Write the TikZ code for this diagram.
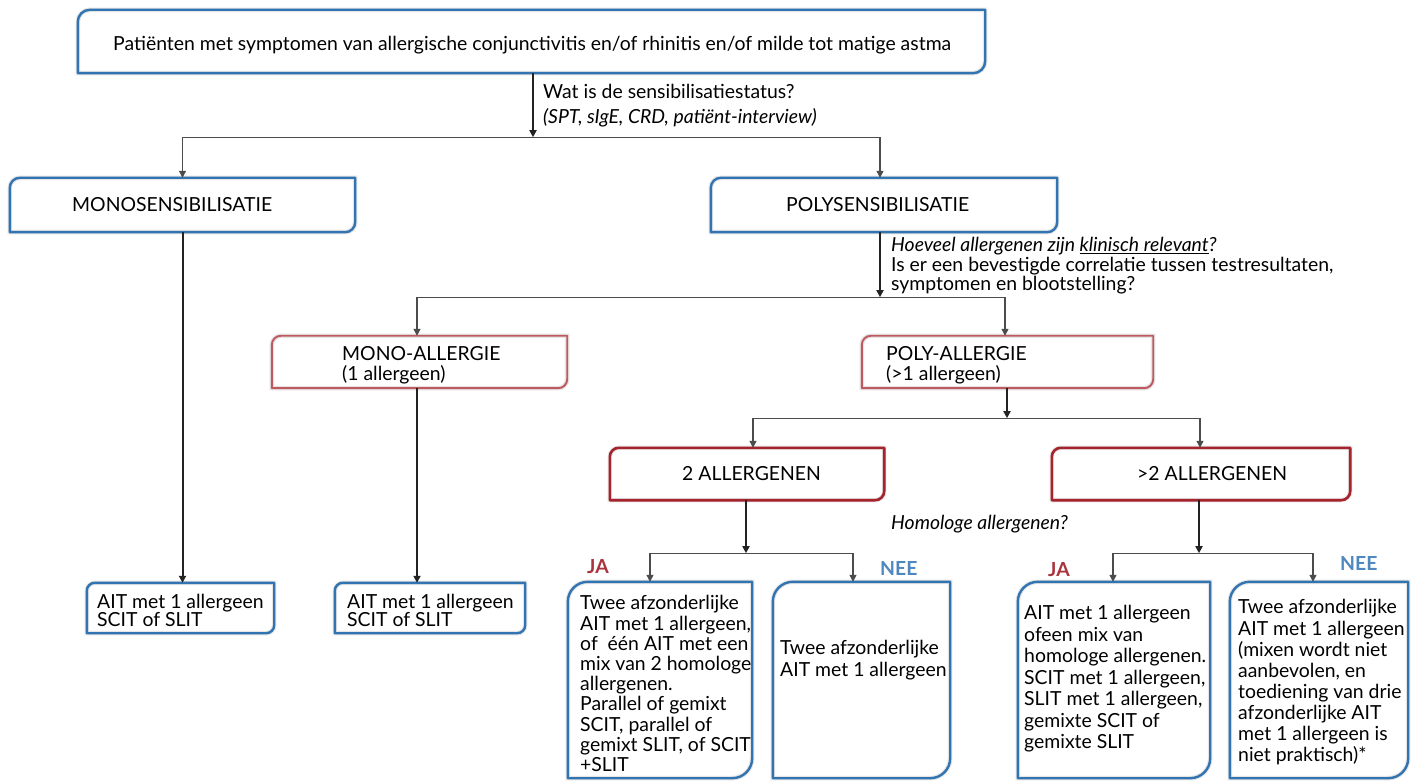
\documentclass[tikz,border=0pt]{standalone}
\usepackage{fontspec}
\setmainfont{Lato}
\usetikzlibrary{calc,arrows.meta}

\definecolor{boxblue}{RGB}{50,116,178}
\definecolor{softred}{RGB}{190,90,95}
\definecolor{deepred}{RGB}{165,35,45}
\definecolor{jared}{RGB}{170,52,62}
\definecolor{neeblue}{RGB}{78,136,190}
\definecolor{wire}{RGB}{35,35,35}

% frame with rounded top-left and bottom-right corners
\newcommand\flowframe[3]{%
  \draw[#2] (#1.south west) -- ([yshift=-#3]#1.north west)
    arc[start angle=180,end angle=90,radius=#3] -- (#1.north east)
    -- ([yshift=#3]#1.south east)
    arc[start angle=0,end angle=-90,radius=#3] -- cycle;}

\tikzset{
  slot/.style={inner sep=0pt, draw=none},
  haze/.style={draw=black!10, line width=4.5pt, shift={(1.2pt,-1.2pt)}},
  bluerim/.style={draw=boxblue, line width=2.4pt, line join=round},
  lightrim/.style={draw=softred, line width=1.9pt, line join=round},
  darkrim/.style={draw=deepred, line width=2.6pt, line join=round},
  txt/.style={inner sep=0pt, font=\fontsize{19.4}{21}\selectfont},
  para/.style={txt, anchor=north west, align=left},
  trunk/.style={draw=wire, line width=2pt, -{Triangle[length=7pt,width=7pt]}},
  branch/.style={draw=black!70, line width=1.2pt, -{Triangle[length=7pt,width=7pt]}},
}

\begin{document}
\begin{tikzpicture}[x=1pt,y=-1pt]
\useasboundingbox[fill=white] (0,0) rectangle (1416,783);

% ---- box slots ----
\node[slot, minimum width=907pt, minimum height=63pt] (top)   at (531.5,41.5) {};
\node[slot, minimum width=345pt, minimum height=54pt] (monos) at (182.5,205) {};
\node[slot, minimum width=346pt, minimum height=54pt] (polys) at (884,205) {};
\node[slot, minimum width=295pt, minimum height=52pt] (monoA) at (419.5,362) {};
\node[slot, minimum width=291pt, minimum height=52pt] (polyA) at (1007.5,362) {};
\node[slot, minimum width=274pt, minimum height=52pt] (twoA)  at (747,474) {};
\node[slot, minimum width=298pt, minimum height=52pt] (moreA) at (1201,474) {};
\node[slot, minimum width=187pt, minimum height=50pt] (ait1)  at (180.5,608) {};
\node[slot, minimum width=190pt, minimum height=50pt] (ait2)  at (430,608) {};
\node[slot, minimum width=184pt, minimum height=196pt] (ja1)  at (660,680) {};
\node[slot, minimum width=177pt, minimum height=196pt] (nee1) at (861.5,680) {};
\node[slot, minimum width=192pt, minimum height=196pt] (ja2)  at (1114,680) {};
\node[slot, minimum width=178pt, minimum height=196pt] (nee2) at (1319,680) {};

% ---- soft shadows ----
\foreach \n/\r in {top/12pt,monos/10pt,polys/10pt,monoA/9pt,polyA/9pt,twoA/9pt,moreA/9pt,
                   ait1/8pt,ait2/8pt,ja1/20pt,nee1/20pt,ja2/20pt,nee2/20pt}{
  \flowframe{\n}{haze}{\r}
}

% ---- frames ----
\flowframe{top}{bluerim}{12pt}
\flowframe{monos}{bluerim}{10pt}
\flowframe{polys}{bluerim}{10pt}
\flowframe{monoA}{lightrim}{9pt}
\flowframe{polyA}{lightrim}{9pt}
\flowframe{twoA}{darkrim}{9pt}
\flowframe{moreA}{darkrim}{9pt}
\flowframe{ait1}{bluerim}{8pt}
\flowframe{ait2}{bluerim}{8pt}
\flowframe{ja1}{bluerim}{20pt}
\flowframe{nee1}{bluerim}{20pt}
\flowframe{ja2}{bluerim}{20pt}
\flowframe{nee2}{bluerim}{20pt}

% ---- texts ----
\node[txt, anchor=base west] (ttop) at (113,51)
  {Patiënten met symptomen van allergische conjunctivitis en/of rhinitis en/of milde tot matige astma};
\node[para, font=\fontsize{19.4}{25}\selectfont] (q1) at (543,84.5)
  {Wat is de sensibilisatiestatus?\\ \textit{(SPT, sIgE, CRD, patiënt-interview)}};
\node[txt, anchor=base west] (tmonos) at (72,212) {MONOSENSIBILISATIE};
\node[txt, anchor=base west] (tpolys) at (786,212) {POLYSENSIBILISATIE};
\node[para, font=\fontsize{19.4}{19.5}\selectfont] (q2) at (891,237.5)
  {\textit{Hoeveel allergenen zijn \underline{klinisch relevant}?}\\
   Is er een bevestigde correlatie tussen testresultaten,\\
   symptomen en blootstelling?};
\node[para, font=\fontsize{19.4}{20}\selectfont] (tmonoA) at (342,346.5) {MONO-ALLERGIE\\(1 allergeen)};
\node[para, font=\fontsize{19.4}{20}\selectfont] (tpolyA) at (886,346.5) {POLY-ALLERGIE\\(>1 allergeen)};
\node[txt, anchor=base west] (ttwoA) at (682,480) {2 ALLERGENEN};
\node[txt, anchor=base west] (tmoreA) at (1137,480) {>2 ALLERGENEN};
\node[txt, anchor=base west] (q3) at (891,529) {\textit{Homologe allergenen?}};

\node[txt, anchor=base west, text=jared]  (ja1l)  at (587,573) {\bfseries JA};
\node[txt, anchor=base west, text=neeblue](nee1l) at (880,575) {\bfseries NEE};
\node[txt, anchor=base west, text=jared]  (ja2l)  at (1048,576) {\bfseries JA};
\node[txt, anchor=base west, text=neeblue](nee2l) at (1340,570) {\bfseries NEE};

\node[para, font=\fontsize{19.4}{18}\selectfont] (tait1) at (97,594.5) {AIT met 1 allergeen\\SCIT of SLIT};
\node[para, font=\fontsize{19.4}{18}\selectfont] (tait2) at (347,594.5) {AIT met 1 allergeen\\SCIT of SLIT};
\node[para, font=\fontsize{19.4}{20.2}\selectfont] (tja1) at (580,595.5)
  {Twee afzonderlijke\\AIT met 1 allergeen,\\of~ één AIT met een\\mix van 2 homologe\\allergenen.\\
   Parallel of gemixt\\SCIT, parallel of\\gemixt SLIT, of SCIT\\+SLIT};
\node[para, font=\fontsize{19.4}{22}\selectfont] (tnee1) at (780,640.5)
  {Twee afzonderlijke\\AIT met 1 allergeen};
\node[para, font=\fontsize{19.4}{21.5}\selectfont] (tja2) at (1024,605.5)
  {AIT met 1 allergeen\\ofeen mix van\\homologe allergenen.\\SCIT met 1 allergeen,\\
   SLIT met 1 allergeen,\\gemixte SCIT of\\gemixte SLIT};
\node[para, font=\fontsize{19.4}{21.1}\selectfont] (tnee2) at (1238,599.5)
  {Twee afzonderlijke\\AIT met 1 allergeen\\(mixen wordt niet\\aanbevolen, en\\
   toediening van drie\\afzonderlijke AIT\\met 1 allergeen is\\niet praktisch)*};

% ---- connectors ----
\draw[trunk] ([xshift=1.5pt]top.south) -- ++(0,64) coordinate (j1);
\draw[branch] (j1) -| (monos.north);
\draw[branch] (j1) -| ([xshift=-4pt]polys.north);

\draw[trunk] ([xshift=-4pt]polys.south) -- ++(0,65) coordinate (j2);
\draw[branch] (j2) -| ([xshift=-2.5pt]monoA.north);
\draw[branch] (j2) -| ([xshift=-2.5pt]polyA.north);

\draw[trunk] ([xshift=-0.5pt]polyA.south) -- ++(0,30) coordinate (j3);
\draw[branch] (j3) -| ([xshift=6pt]twoA.north);
\draw[branch] (j3) -| ([xshift=-1pt]moreA.north);

\draw[trunk] ([xshift=-1pt]twoA.south) -- ++(0,53) coordinate (j4);
\draw[branch] (j4) -| ([xshift=-10pt]ja1.north);
\draw[branch] (j4) -| ([xshift=-8.5pt]nee1.north);

\draw[trunk] ([xshift=-2pt]moreA.south) -- ++(0,53) coordinate (j5);
\draw[branch] (j5) -| ([xshift=-1pt]ja2.north);
\draw[branch] (j5) -| ([xshift=-6pt]nee2.north);

\draw[trunk] (monos.south) -- (monos.south |- ait1.north);
\draw[trunk] ([xshift=-2.5pt]monoA.south) -- ([xshift=-2.5pt]monoA.south |- ait2.north);
\end{tikzpicture}
\end{document}
